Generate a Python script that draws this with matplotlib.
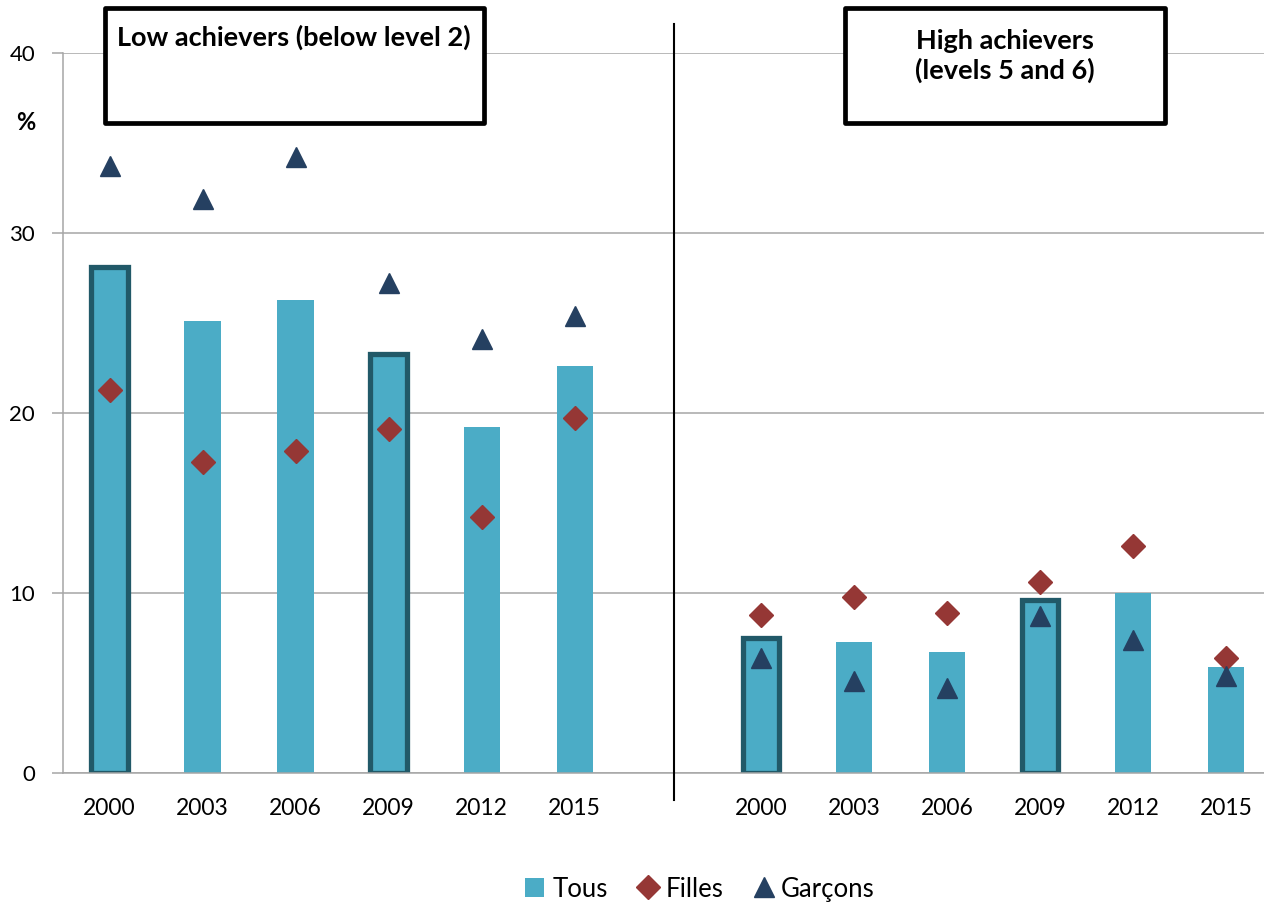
import numpy as np
import matplotlib
matplotlib.use("Agg")
import matplotlib.pyplot as plt
from matplotlib.patches import Rectangle, Patch
from matplotlib.lines import Line2D

plt.rcParams['font.family'] = ['Lato', 'DejaVu Sans']

# data
years = ['2000', '2003', '2006', '2009', '2012', '2015']
tous_low = [28.1, 25.1, 26.3, 23.3, 19.2, 22.6]
filles_low = [21.3, 17.3, 17.9, 19.1, 14.2, 19.7]
garcons_low = [33.7, 31.9, 34.2, 27.2, 24.1, 25.4]
tous_high = [7.5, 7.3, 6.7, 9.6, 10.0, 5.9]
filles_high = [8.8, 9.8, 8.9, 10.6, 12.6, 6.4]
garcons_high = [6.4, 5.1, 4.7, 8.7, 7.4, 5.4]
highlight = ['2000', '2009']

c_tous = '#4BACC6'
c_edge = '#215968'
c_filles = '#953735'
c_garcons = '#254061'
c_grid = '#A6A6A6'

W, H = 1264, 905
fig = plt.figure(figsize=(W / 100, H / 100), dpi=100)
ax = fig.add_axes([63 / W, 132 / H, (W - 63) / W, 720 / H])

pos_low = np.arange(6)
pos_high = np.arange(6) + 7
bw = 0.39

for pos, tous, filles, garcons in [(pos_low, tous_low, filles_low, garcons_low),
                                   (pos_high, tous_high, filles_high, garcons_high)]:
    for x, v, yr in zip(pos, tous, years):
        if yr in highlight:
            ax.bar(x, v, width=bw, color=c_tous, edgecolor=c_edge, linewidth=3.8, zorder=2)
        else:
            ax.bar(x, v, width=bw, color=c_tous, linewidth=0, zorder=2)
    ax.plot(pos, filles, 'D', color=c_filles, markersize=12.5, linestyle='none', zorder=3)
    ax.plot(pos, garcons, '^', color=c_garcons, markersize=14, linestyle='none', zorder=3)

ax.set_ylim(0, 40)
ax.set_xlim(-0.5, (W - 110) / 93)
ax.set_yticks([0, 10, 20, 30, 40])
ax.set_xticks(list(pos_low) + list(pos_high))
ax.set_xticklabels(years + years)
ax.tick_params(axis='x', length=0, pad=18, labelsize=16.5)
ax.tick_params(axis='y', length=8, width=1.1, color=c_grid, pad=12, labelsize=16)
ax.yaxis.grid(True, color=c_grid, linewidth=1.1)
ax.set_axisbelow(True)
for s in ['top', 'right']:
    ax.spines[s].set_visible(False)
ax.spines['left'].set_color(c_grid)
ax.spines['left'].set_linewidth(1.1)
ax.spines['bottom'].set_color(c_grid)
ax.spines['bottom'].set_linewidth(1.1)

# separator between the two panels
ax.plot([6.065, 6.065], [-1.5, 41.6], color='black', linewidth=1.5, clip_on=False, zorder=4)

fig.text(26 / W, 1 - 122 / H, '%', fontsize=17, fontweight='bold', ha='center', va='center')

# title boxes
for x0, x1, y0, y1 in [(105, 484, 8, 123), (845, 1165, 8, 123)]:
    fig.patches.append(Rectangle((x0 / W, 1 - y1 / H), (x1 - x0) / W, (y1 - y0) / H,
                                 transform=fig.transFigure, facecolor='white',
                                 edgecolor='black', linewidth=3.4, joinstyle='round'))
fig.text(294 / W, 1 - 37 / H, 'Low achievers (below level 2)', fontsize=19.5,
         fontweight='bold', ha='center', va='center')
fig.text(1005 / W, 1 - 56 / H, 'High achievers\n(levels 5 and 6)', fontsize=19.5,
         fontweight='bold', ha='center', va='center', linespacing=1.25)

handles = [Patch(facecolor=c_tous, edgecolor='none'),
           Line2D([], [], marker='D', color=c_filles, linestyle='none', markersize=12),
           Line2D([], [], marker='^', color=c_garcons, linestyle='none', markersize=14)]
fig.legend(handles, ['Tous', 'Filles', 'Garçons'], loc='center', ncol=3,
           bbox_to_anchor=(700 / W, 1 - 889 / H), frameon=False, fontsize=18.5,
           handlelength=0.75, handleheight=0.75, handletextpad=0.3, columnspacing=1.2)

fig.savefig('out.png', dpi=100)
